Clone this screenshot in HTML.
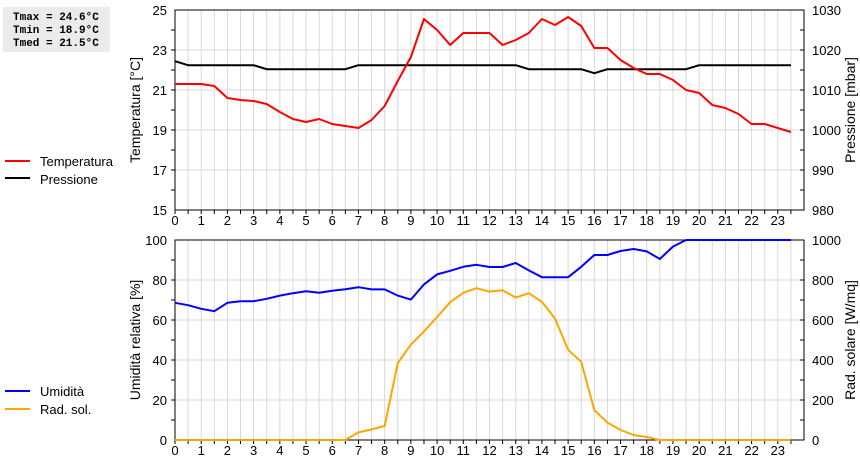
<!DOCTYPE html>
<html><head><meta charset="utf-8"><style>
body{margin:0;background:#fff;width:860px;height:460px;overflow:hidden;font-family:"Liberation Sans",sans-serif}
</style></head><body>
<svg id="c" width="860" height="460" xmlns="http://www.w3.org/2000/svg" font-family="Liberation Sans, sans-serif">
<rect x="3" y="7" width="107" height="45" fill="#ebebeb"/>
<g style="font-family:'Liberation Mono',monospace;font-weight:bold;font-size:11px">
<text x="13" y="20">Tmax = 24.6°C</text>
<text x="13" y="33">Tmin = 18.9°C</text>
<text x="13" y="46">Tmed = 21.5°C</text>
</g>
<g>
<line x1="5" y1="161" x2="30" y2="161" stroke="#f00" stroke-width="2"/>
<text x="40" y="166" font-size="13">Temperatura</text>
<line x1="5" y1="178" x2="30" y2="178" stroke="#000" stroke-width="2"/>
<text x="40" y="184" font-size="13">Pressione</text>
</g>
<g>
<line x1="5" y1="391" x2="30" y2="391" stroke="#00f" stroke-width="2"/>
<text x="40" y="396" font-size="13">Umidità</text>
<line x1="5" y1="409" x2="30" y2="409" stroke="#ffa500" stroke-width="2"/>
<text x="40" y="414" font-size="13">Rad. sol.</text>
</g>
<g id="g"></g>
</svg>
<script>
const hours=[0,0.5,1,1.5,2,2.5,3,3.5,4,4.5,5,5.5,6,6.5,7,7.5,8,8.5,9,9.5,10,10.5,11,11.5,12,12.5,13,13.5,14,14.5,15,15.5,16,16.5,17,17.5,18,18.5,19,19.5,20,20.5,21,21.5,22,22.5,23,23.5];
const temperature=[21.3,21.3,21.3,21.2,20.6,20.5,20.45,20.3,19.9,19.55,19.4,19.55,19.3,19.2,19.1,19.5,20.2,21.45,22.65,24.55,24.0,23.25,23.85,23.85,23.85,23.25,23.5,23.85,24.55,24.25,24.65,24.2,23.1,23.1,22.5,22.1,21.8,21.8,21.5,21.0,20.85,20.25,20.1,19.8,19.3,19.3,19.1,18.9];
const pressure=[1017.2,1016.2,1016.2,1016.2,1016.2,1016.2,1016.2,1015.2,1015.2,1015.2,1015.2,1015.2,1015.2,1015.2,1016.2,1016.2,1016.2,1016.2,1016.2,1016.2,1016.2,1016.2,1016.2,1016.2,1016.2,1016.2,1016.2,1015.2,1015.2,1015.2,1015.2,1015.2,1014.2,1015.2,1015.2,1015.2,1015.2,1015.2,1015.2,1015.2,1016.2,1016.2,1016.2,1016.2,1016.2,1016.2,1016.2,1016.2];
const humidity=[68.6,67.4,65.6,64.4,68.6,69.4,69.4,70.6,72.2,73.4,74.4,73.6,74.6,75.4,76.4,75.3,75.3,72.2,70.2,77.8,82.8,84.6,86.6,87.6,86.5,86.5,88.5,84.8,81.4,81.4,81.4,86.6,92.5,92.5,94.5,95.5,94.3,90.5,96.7,100,100,100,100,100,100,100,100,100];
const radiation=[0,0,0,0,0,0,0,0,0,0,0,0,0,0,38,53,70,385,477,543,615,689,736,759,742,749,712,734,691,607,451,391,149,87,50,25,15,0,0,0,0,0,0,0,0,0,0,0];
const xTicks=[0,1,2,3,4,5,6,7,8,9,10,11,12,13,14,15,16,17,18,19,20,21,22,23];
const tempTicks=[15,17,19,21,23,25];
const presTicks=[980,990,1000,1010,1020,1030];
const humTicks=[0,20,40,60,80,100];
const radTicks=[0,200,400,600,800,1000];

const X0=175,X1=804;
const x=h=>X0+(X1-X0)*h/24;
const NS='http://www.w3.org/2000/svg';
const G=document.getElementById('g');
function mk(t,a,p){const e=document.createElementNS(NS,t);for(const k in a)e.setAttribute(k,a[k]);(p||G).appendChild(e);return e;}

function panel(top,bot,lmin,lmax,lstep,rmin,rmax,lTicks,rTicks,lTitle,rTitle,name){
  const yl=v=>bot-(v-lmin)/(lmax-lmin)*(bot-top);
  const yr=v=>bot-(v-rmin)/(rmax-rmin)*(bot-top);
  const g=mk('g',{});
  
  
  for(let h=0.5;h<24;h+=0.5){const l=mk('line',{x1:x(h),x2:x(h),y1:top,y2:bot,stroke:'#d8d8d8','stroke-width':1},g);
    }
  let k=0;
  for(let v=lmin+lstep;v<lmax-1e-9;v+=lstep){k++;
    if(k%2===0){const l=mk('line',{x1:X0,x2:X1,y1:yl(v),y2:yl(v),stroke:'#d8d8d8','stroke-width':1},g);
      }
    mk('line',{x1:X0-4,x2:X0,y1:yl(v),y2:yl(v),stroke:'#000'},g);
    mk('line',{x1:X1-4,x2:X1,y1:yl(v),y2:yl(v),stroke:'#000'},g);}
  mk('rect',{x:X0,y:top,width:X1-X0,height:bot-top,fill:'none',stroke:'#000','stroke-width':1},g);
  for(let h=0;h<24;h+=0.5){mk('line',{x1:x(h),x2:x(h),y1:bot,y2:bot+4,stroke:'#000'},g);}
  xTicks.forEach(h=>{const t=mk('text',{x:x(h),y:bot+15,'font-size':13,'text-anchor':'middle'},g);t.textContent=h;
    });
  lTicks.forEach(v=>{const t=mk('text',{x:X0-8,y:yl(v)+5,'font-size':13,'text-anchor':'end'},g);t.textContent=v;
    });
  rTicks.forEach(v=>{const t=mk('text',{x:X1+8,y:yr(v)+5,'font-size':13},g);t.textContent=v;
    });
  const cy=(top+bot)/2;
  const lt=mk('text',{x:0,y:0,'font-size':14,'text-anchor':'middle',transform:`translate(140,${cy}) rotate(-90)`},g);lt.textContent=lTitle;
  
  const rt=mk('text',{x:0,y:0,'font-size':14,'text-anchor':'middle',transform:`translate(855,${cy}) rotate(-90)`},g);rt.textContent=rTitle;
  
  return {yl,yr,g};
}
function line(vals,y,color,g,name){
  const p=mk('polyline',{points:hours.map((h,i)=>x(h)+','+y(vals[i])).join(' '),fill:'none',stroke:color,'stroke-width':2,'stroke-linejoin':'round'},g);
  
  
}
const A=panel(10,210,15,25,1,980,1030,tempTicks,presTicks,'Temperatura [°C]','Pressione [mbar]','top');
line(pressure,A.yr,'#000',A.g,'pressure-line');
line(temperature,A.yl,'#f00',A.g,'temperature-line');
const B=panel(240,440,0,100,10,0,1000,humTicks,radTicks,'Umidità relativa [%]','Rad. solare [W/mq]','bottom');
line(humidity,B.yl,'#00f',B.g,'humidity-line');
line(radiation,B.yr,'#ffa500',B.g,'radiation-line');
</script>
</body></html>
